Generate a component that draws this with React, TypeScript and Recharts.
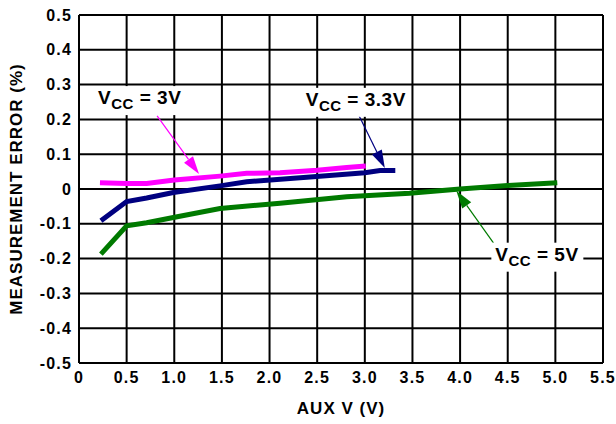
import {
  LineChart, Line, XAxis, YAxis, CartesianGrid,
  ReferenceLine, ReferenceDot
} from 'recharts'

// AUX V (V) vs measurement error (%) for three supply voltages
const vcc3V = [
  { x: 0.22, y: 0.018 }, { x: 0.5, y: 0.016 }, { x: 0.71, y: 0.016 },
  { x: 1.0, y: 0.026 }, { x: 1.48, y: 0.037 }, { x: 1.76, y: 0.045 },
  { x: 2.11, y: 0.047 }, { x: 2.5, y: 0.054 }, { x: 2.81, y: 0.062 },
  { x: 3.01, y: 0.066 },
]
const vcc33V = [
  { x: 0.23, y: -0.091 }, { x: 0.5, y: -0.036 }, { x: 0.71, y: -0.026 },
  { x: 0.99, y: -0.01 }, { x: 1.48, y: 0.009 }, { x: 1.76, y: 0.021 },
  { x: 2.46, y: 0.035 }, { x: 3.0, y: 0.047 }, { x: 3.16, y: 0.053 },
  { x: 3.32, y: 0.053 },
]
const vcc5V = [
  { x: 0.23, y: -0.187 }, { x: 0.5, y: -0.106 }, { x: 0.71, y: -0.097 },
  { x: 0.99, y: -0.082 }, { x: 1.48, y: -0.056 }, { x: 2.11, y: -0.041 },
  { x: 2.81, y: -0.022 }, { x: 3.47, y: -0.012 }, { x: 4.0, y: 0.0 },
  { x: 4.5, y: 0.01 }, { x: 5.02, y: 0.018 },
]

const xTicks = [0, 0.5, 1, 1.5, 2, 2.5, 3, 3.5, 4, 4.5, 5, 5.5]
const yTicks = [-0.5, -0.4, -0.3, -0.2, -0.1, 0, 0.1, 0.2, 0.3, 0.4, 0.5]

// callouts: label anchor (left, baseline) and arrow start -> tip, in data units
const callouts = [
  { sub: '3V', color: '#ff00ff', label: { x: 0.2, y: 0.244 }, from: { x: 0.82, y: 0.21 }, to: { x: 1.26, y: 0.043 } },
  { sub: '3.3V', color: '#000080', label: { x: 2.38, y: 0.239 }, from: { x: 2.91, y: 0.227 }, to: { x: 3.21, y: 0.06 } },
  { sub: '5V', color: '#007a00', label: { x: 4.37, y: -0.206 }, from: { x: 4.35, y: -0.155 }, to: { x: 3.96, y: -0.005 } },
]

const FONT = '"Liberation Sans", Arial, Helvetica, sans-serif'
const fmt = (v: number) => (v === 0 ? '0' : v.toFixed(1))

function Arrow(props: any) {
  const { x1, y1, x2, y2, color } = props
  const dx = x2 - x1, dy = y2 - y1
  const len = Math.hypot(dx, dy)
  const ux = dx / len, uy = dy / len
  const hl = 18, hw = 5.5
  const bx = x2 - ux * hl, by = y2 - uy * hl
  return (
    <g>
      <line x1={x1} y1={y1} x2={bx} y2={by} stroke={color} strokeWidth={1.2} />
      <polygon
        points={`${x2},${y2} ${bx - uy * hw},${by + ux * hw} ${bx + uy * hw},${by - ux * hw}`}
        fill={color}
      />
    </g>
  )
}

function VccLabel(props: any) {
  const { cx, cy, sub } = props
  const w = sub.length > 2 ? 106 : 92
  return (
    <g>
      <rect x={cx - 4} y={cy - 18} width={w} height={29} fill="#fff" />
      <text x={cx} y={cy} fontFamily={FONT} fontWeight={700} fill="#000" fontSize={19} letterSpacing={0.5}>
        V
        <tspan fontSize={15} dy={5}>CC</tspan>
        <tspan dy={-5}>{` = ${sub}`}</tspan>
      </text>
    </g>
  )
}

export default function App() {
  const tickStyle = { fill: '#000', fontSize: 16, fontWeight: 700, fontFamily: FONT, letterSpacing: 1.2 }
  return (
    <div style={{ position: 'absolute', left: 0, top: 0, fontFamily: FONT }}>
      <LineChart
        width={616}
        height={424}
        margin={{ top: 15, right: 13, bottom: 0, left: 0 }}
      >
        <CartesianGrid stroke="#000" strokeWidth={2} />
        <XAxis
          type="number"
          dataKey="x"
          domain={[0, 5.5]}
          ticks={xTicks}
          tickFormatter={fmt}
          height={61}
          axisLine={{ stroke: '#000', strokeWidth: 2 }}
          tickLine={false}
          tickSize={0}
          tickMargin={9}
          tick={tickStyle}
          interval={0}
          allowDataOverflow
          label={{ value: 'AUX V (V)', position: 'insideBottom', offset: 10, fill: '#000', fontSize: 17, fontWeight: 700, letterSpacing: 1 }}
        />
        <YAxis
          type="number"
          dataKey="y"
          domain={[-0.5, 0.5]}
          ticks={yTicks}
          tickFormatter={fmt}
          width={79}
          axisLine={{ stroke: '#000', strokeWidth: 2 }}
          tickLine={false}
          tickSize={0}
          tickMargin={7}
          tick={tickStyle}
          interval={0}
          allowDataOverflow
          label={{ value: 'MEASUREMENT ERROR (%)', angle: -90, position: 'insideLeft', offset: 16, fill: '#000', fontSize: 17, fontWeight: 700, letterSpacing: 1, style: { textAnchor: 'middle' } }}
        />
        <Line data={vcc3V} dataKey="y" type="linear" stroke="#ff00ff" strokeWidth={5} dot={false} isAnimationActive={false} />
        <Line data={vcc33V} dataKey="y" type="linear" stroke="#000080" strokeWidth={5} dot={false} isAnimationActive={false} />
        <Line data={vcc5V} dataKey="y" type="linear" stroke="#007a00" strokeWidth={5} dot={false} isAnimationActive={false} />
        {callouts.map(c => (
          <ReferenceLine
            key={'a' + c.sub}
            segment={[c.from, c.to]}
            shape={(p: any) => <Arrow {...p} color={c.color} />}
          />
        ))}
        {callouts.map(c => (
          <ReferenceDot
            key={'l' + c.sub}
            x={c.label.x}
            y={c.label.y}
            r={0}
            shape={(p: any) => <VccLabel {...p} sub={c.sub} />}
          />
        ))}
      </LineChart>
    </div>
  )
}
